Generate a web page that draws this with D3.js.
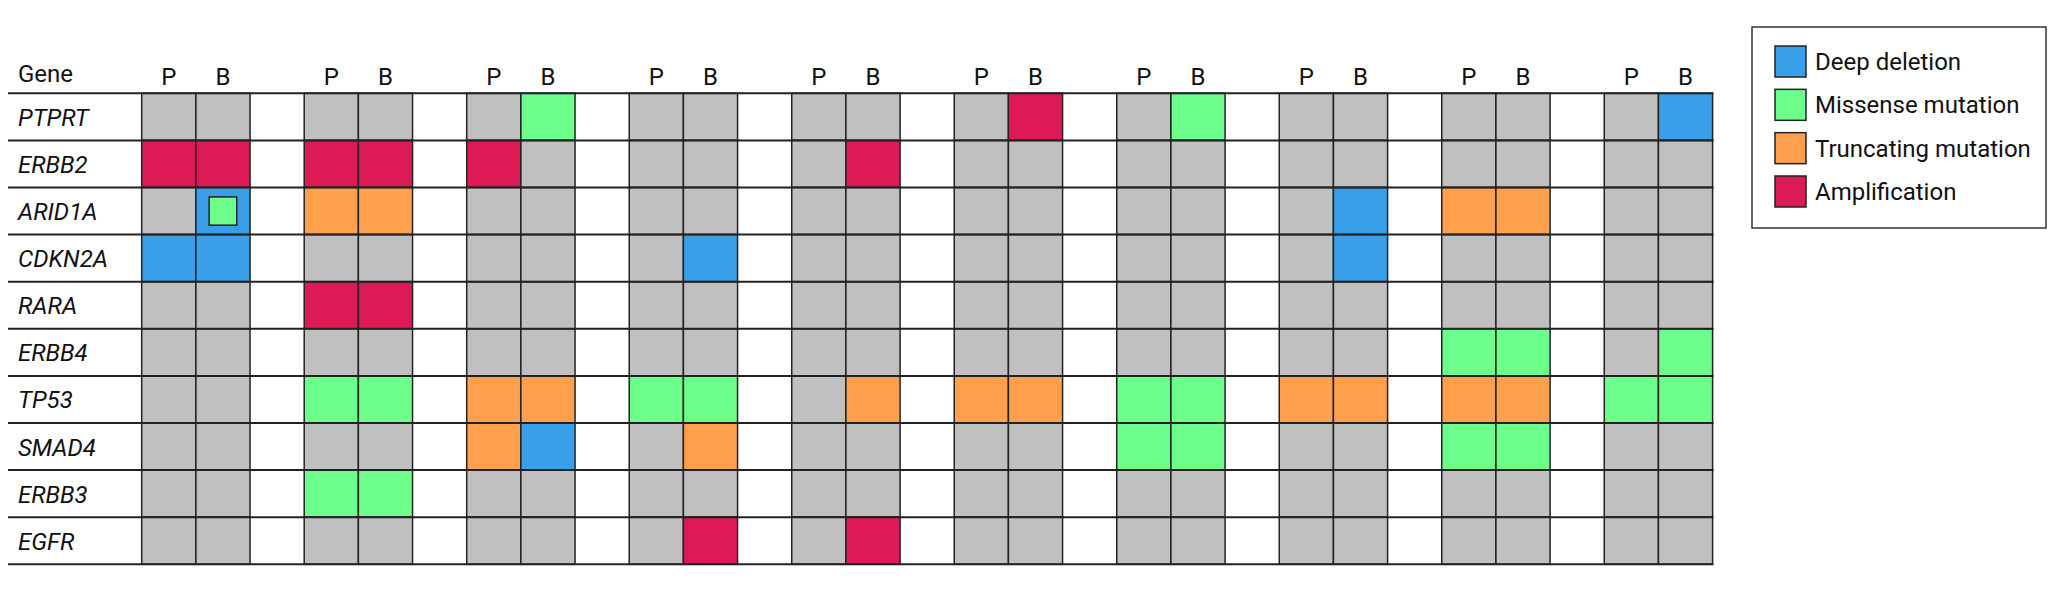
<!DOCTYPE html>
<html>
<head>
  <meta charset="UTF-8">
  <title>Gene alterations, primary vs brain metastasis</title>
  <script src="https://cdn.jsdelivr.net/npm/d3@7"></script>
  <style>
    html, body { margin: 0; padding: 0; background: #fff; }
    svg text { font-family: Roboto, "Noto Sans", sans-serif; fill: #111; }
  </style>
</head>
<body>
<svg id="chart" width="2048" height="589"></svg>
<script>
// ---- data ----
const genes = ['PTPRT', 'ERBB2', 'ARID1A', 'CDKN2A', 'RARA', 'ERBB4', 'TP53', 'SMAD4', 'ERBB3', 'EGFR'];
const patients = [1, 2, 3, 4, 5, 6, 7, 8, 9, 10];
const sampleTypes = ['P', 'B'];

// one row per gene, P/B pairs for patients 1..10
// '.' none, D deep deletion, M missense, T truncating, A amplification, 'D+M' both
const calls = [
  ['.', '.',   '.', '.', '.', 'M', '.', '.', '.', '.', '.', 'A', '.', 'M', '.', '.', '.', '.', '.', 'D'],
  ['A', 'A',   'A', 'A', 'A', '.', '.', '.', '.', 'A', '.', '.', '.', '.', '.', '.', '.', '.', '.', '.'],
  ['.', 'D+M', 'T', 'T', '.', '.', '.', '.', '.', '.', '.', '.', '.', '.', '.', 'D', 'T', 'T', '.', '.'],
  ['D', 'D',   '.', '.', '.', '.', '.', 'D', '.', '.', '.', '.', '.', '.', '.', 'D', '.', '.', '.', '.'],
  ['.', '.',   'A', 'A', '.', '.', '.', '.', '.', '.', '.', '.', '.', '.', '.', '.', '.', '.', '.', '.'],
  ['.', '.',   '.', '.', '.', '.', '.', '.', '.', '.', '.', '.', '.', '.', '.', '.', 'M', 'M', '.', 'M'],
  ['.', '.',   'M', 'M', 'T', 'T', 'M', 'M', '.', 'T', 'T', 'T', 'M', 'M', 'T', 'T', 'T', 'T', 'M', 'M'],
  ['.', '.',   '.', '.', 'T', 'D', '.', 'T', '.', '.', '.', '.', 'M', 'M', '.', '.', 'M', 'M', '.', '.'],
  ['.', '.',   'M', 'M', '.', '.', '.', '.', '.', '.', '.', '.', '.', '.', '.', '.', '.', '.', '.', '.'],
  ['.', '.',   '.', '.', '.', '.', '.', 'A', '.', 'A', '.', '.', '.', '.', '.', '.', '.', '.', '.', '.']
];

const legendCodes = ['D', 'M', 'T', 'A'];
const legendLabels = ['Deep deletion', 'Missense mutation', 'Truncating mutation', 'Amplification'];

// ---- layout ----
const svg = d3.select('#chart');
const lineColor = '#222';

const color = d3.scaleOrdinal()
  .domain(['.', 'D', 'M', 'T', 'A'])
  .range(['#c0c0c0', '#3a9fe9', '#6cfd8b', '#fea04e', '#dd1a56']);

// column keys: P, B, then a spacer between patients
const columns = [];
patients.forEach((p, i) => {
  sampleTypes.forEach(s => columns.push(`${p}-${s}`));
  if (i < patients.length - 1) columns.push(`${p}-gap`);
});

const x = d3.scaleBand().domain(columns).range([141.7, 1712.6]).padding(0);
const y = d3.scaleBand().domain(genes).range([93.3, 564.3]).padding(0);

const cells = [];
genes.forEach((g, gi) => {
  patients.forEach((p, pi) => {
    sampleTypes.forEach((s, si) => {
      cells.push({ gene: g, col: `${p}-${s}`, code: calls[gi][pi * 2 + si] });
    });
  });
});

// cells
svg.append('g').selectAll('rect').data(cells).enter().append('rect')
  .attr('x', d => x(d.col))
  .attr('y', d => y(d.gene))
  .attr('width', x.bandwidth())
  .attr('height', y.bandwidth())
  .attr('fill', d => color(d.code.split('+')[0]))
  .attr('stroke', lineColor)
  .attr('stroke-width', 1.5);

// inset for a second alteration in the same sample
const inset = cells.filter(d => d.code.includes('+'));
svg.append('g').selectAll('rect').data(inset).enter().append('rect')
  .attr('x', d => x(d.col) + x.bandwidth() * 0.245)
  .attr('y', d => y(d.gene) + y.bandwidth() * 0.2)
  .attr('width', x.bandwidth() * 0.51)
  .attr('height', y.bandwidth() * 0.6)
  .attr('fill', d => color(d.code.split('+')[1]))
  .attr('stroke', lineColor)
  .attr('stroke-width', 1.5);

// horizontal row lines across the whole table
const rowEdges = genes.map(g => y(g)).concat([y.range()[1]]);
svg.append('g').selectAll('line').data(rowEdges).enter().append('line')
  .attr('x1', 8)
  .attr('x2', x.range()[1] + 0.8)
  .attr('y1', d => d)
  .attr('y2', d => d)
  .attr('stroke', lineColor)
  .attr('stroke-width', 2);

// header
svg.append('text')
  .attr('x', 18)
  .attr('y', 82)
  .attr('font-size', 24)
  .text('Gene');

const headerCols = columns.filter(c => !c.endsWith('gap'));
svg.append('g').selectAll('text').data(headerCols).enter().append('text')
  .attr('x', d => x(d) + x.bandwidth() / 2)
  .attr('y', 85)
  .attr('text-anchor', 'middle')
  .attr('font-size', 24)
  .text(d => d.split('-')[1]);

// gene names
svg.append('g').selectAll('text').data(genes).enter().append('text')
  .attr('x', 18)
  .attr('y', d => y(d) + y.bandwidth() / 2 + 9)
  .attr('font-size', 24)
  .attr('font-style', 'italic')
  .text(d => d);

// legend
const legend = svg.append('g');
legend.append('rect')
  .attr('x', 1752)
  .attr('y', 27)
  .attr('width', 294)
  .attr('height', 201)
  .attr('fill', 'none')
  .attr('stroke', '#333')
  .attr('stroke-width', 1.5);

const ly = d3.scalePoint().domain(legendCodes).range([46, 176]);

legend.selectAll('.swatch').data(legendCodes).enter().append('rect')
  .attr('class', 'swatch')
  .attr('x', 1775)
  .attr('y', d => ly(d))
  .attr('width', 31)
  .attr('height', 31)
  .attr('fill', d => color(d))
  .attr('stroke', lineColor)
  .attr('stroke-width', 1.5);

legend.selectAll('.label').data(legendCodes).enter().append('text')
  .attr('class', 'label')
  .attr('x', 1815)
  .attr('y', d => ly(d) + 24)
  .attr('font-size', 24)
  .text((d, i) => legendLabels[i]);
</script>
</body>
</html>
